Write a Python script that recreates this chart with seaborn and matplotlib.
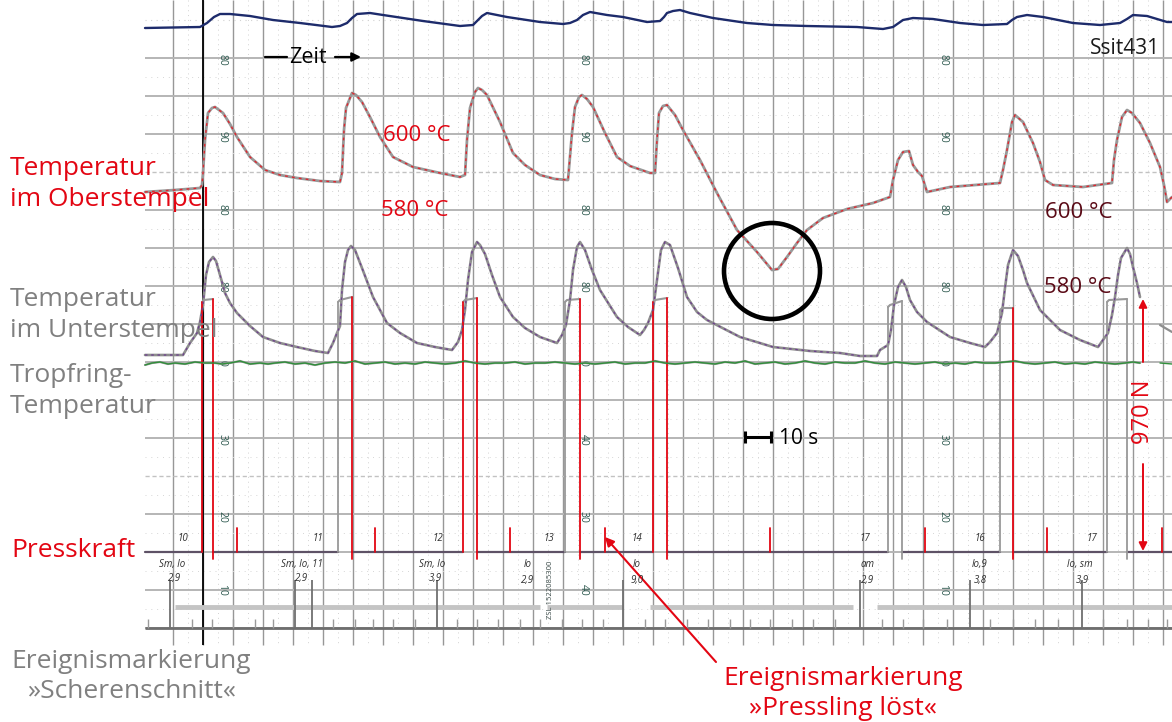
import numpy as np
import matplotlib
matplotlib.use("Agg")
import matplotlib.pyplot as plt
import seaborn as sns
from matplotlib.patches import Circle

# ---------------- data read from the recorder strip (x = time axis, y = pen position) -------------
blue_trace = [(145, 28), (200, 27), (207, 23), (214, 17), (220, 14), (230, 14), (250, 16), (273, 20), (300, 23),
              (332, 27), (340, 26), (347, 23), (352, 18), (357, 14), (370, 13), (383, 15), (423, 21), (460, 26),
              (473, 25), (477, 21), (482, 16), (487, 13), (507, 17), (540, 22), (563, 24), (570, 23), (577, 20),
              (583, 15), (590, 12), (607, 15), (623, 17), (647, 22), (660, 21), (664, 17), (667, 13), (673, 11),
              (680, 10), (690, 13), (713, 18), (747, 23), (773, 25), (807, 26), (857, 27), (883, 29), (893, 27),
              (903, 20), (913, 18), (933, 19), (960, 23), (983, 25), (1007, 24), (1012, 20), (1017, 17), (1027, 15),
              (1043, 17), (1073, 23), (1100, 25), (1120, 23), (1127, 19), (1133, 15), (1147, 16), (1167, 22),
              (1172, 22)]

ober_trace = [(145, 192), (175, 190), (200, 188), (202, 185), (203, 173), (205, 140), (208, 113), (212, 108),
              (215, 107), (223, 113), (230, 124), (237, 137), (250, 157), (265, 170), (280, 175), (297, 178),
              (320, 181), (340, 182), (342, 173), (344, 130), (346, 108), (352, 93), (356, 95), (362, 102),
              (370, 117), (380, 137), (393, 157), (413, 167), (440, 173), (460, 177), (465, 175), (467, 140),
              (470, 108), (475, 92), (478, 88), (482, 90), (487, 95), (500, 122), (513, 153), (525, 165),
              (540, 175), (555, 179), (568, 180), (572, 133), (575, 107), (579, 97), (582, 95), (587, 99),
              (593, 107), (605, 133), (617, 157), (630, 166), (650, 173), (655, 173), (657, 140), (659, 113),
              (663, 106), (667, 105), (675, 115), (683, 130), (700, 160), (717, 193), (737, 230), (757, 252),
              (772, 270), (778, 269), (787, 257), (797, 243), (807, 230), (823, 218), (847, 209), (873, 203),
              (890, 197), (893, 180), (898, 160), (903, 152), (909, 151), (913, 165), (918, 172), (922, 176),
              (927, 192), (950, 187), (975, 185), (1000, 183), (1003, 170), (1007, 150), (1012, 122), (1015, 115),
              (1023, 122), (1033, 143), (1040, 162), (1045, 180), (1053, 185), (1083, 187), (1112, 183),
              (1114, 160), (1117, 140), (1122, 117), (1127, 110), (1132, 113), (1140, 123), (1150, 143),
              (1160, 167), (1164, 185), (1167, 202), (1172, 197)]

unter_trace = [(145, 355), (183, 355), (190, 343), (197, 333), (200, 322), (203, 305), (206, 275), (209, 262),
               (213, 257), (216, 261), (220, 275), (225, 293), (230, 303), (237, 313), (250, 326), (263, 337),
               (280, 343), (297, 347), (315, 351), (328, 353), (333, 343), (337, 333), (340, 326), (342, 290),
               (345, 262), (348, 250), (351, 246), (355, 250), (362, 268), (373, 297), (387, 323), (400, 333),
               (417, 343), (435, 347), (452, 350), (458, 342), (462, 330), (465, 310), (468, 280), (472, 252),
               (477, 242), (480, 245), (485, 254), (492, 275), (500, 297), (513, 317), (525, 328), (540, 337),
               (557, 343), (562, 335), (566, 325), (570, 300), (573, 270), (577, 247), (580, 242), (585, 250),
               (592, 270), (600, 290), (617, 317), (628, 327), (640, 335), (644, 330), (648, 323), (653, 310),
               (657, 280), (661, 250), (665, 242), (670, 245), (678, 268), (687, 297), (697, 312), (707, 320),
               (740, 337), (773, 347), (810, 351), (840, 353), (860, 356), (877, 356), (880, 350), (888, 345),
               (891, 330), (894, 305), (898, 287), (902, 280), (906, 287), (910, 300), (917, 312), (927, 322),
               (950, 337), (970, 343), (985, 347), (990, 342), (997, 333), (1002, 313), (1005, 288), (1008, 265),
               (1013, 250), (1018, 256), (1023, 270), (1027, 283), (1040, 310), (1060, 330), (1080, 340),
               (1098, 347), (1103, 340), (1108, 333), (1112, 315), (1115, 297), (1118, 275), (1121, 258),
               (1127, 248), (1130, 254), (1133, 267), (1137, 283), (1140, 297)]
unter_tail = [(1160, 325), (1172, 332)]

tropf_trace = [(145, 365), (152, 363), (160, 362), (168, 364), (175, 363), (185, 364), (195, 362), (205, 363),
               (215, 363), (222, 364), (230, 363), (240, 361), (250, 364), (260, 363), (268, 364), (275, 363),
               (285, 362), (295, 364), (305, 363), (315, 365), (325, 363), (335, 362), (345, 363), (355, 361),
               (365, 364), (375, 363), (385, 362), (395, 364), (405, 363), (415, 364), (425, 362), (435, 363),
               (445, 364), (455, 363), (465, 361), (475, 363), (485, 364), (495, 363), (505, 363), (515, 362),
               (525, 364), (535, 363), (545, 363), (555, 362), (565, 363), (575, 364), (585, 363), (595, 364),
               (605, 363), (615, 362), (625, 364), (635, 363), (645, 363), (655, 361), (665, 363), (675, 364),
               (685, 363), (695, 362), (705, 363), (715, 364), (725, 362), (735, 363), (745, 361), (755, 364),
               (765, 363), (775, 362), (785, 364), (795, 363), (805, 361), (815, 363), (825, 364), (835, 362),
               (845, 363), (855, 363), (865, 361), (875, 363), (885, 364), (895, 362), (905, 363), (915, 364),
               (925, 363), (935, 362), (945, 364), (955, 363), (965, 364), (975, 362), (985, 363), (995, 363),
               (1005, 362), (1015, 361), (1025, 363), (1035, 364), (1045, 363), (1055, 362), (1065, 364),
               (1075, 363), (1085, 364), (1095, 362), (1105, 363), (1115, 364), (1125, 363), (1133, 362),
               (1140, 363)]
tropf_tail = [(1160, 363), (1172, 364)]

# Presskraft: press cycles (rise, fall) and plateau levels
press_on = [202, 338, 463, 565, 653, 888, 1000, 1107]
press_off = [213, 352, 477, 580, 667, 902, 1013, 1127]
plateau_on = [302, 302, 302, 302, 302, 307, 310, 302]
plateau_off = [299, 297, 298, 299, 298, 301, 308, 299]
press_base = 552
press_start, press_end = 145, 1172
rise_red = [True, False, True, False, True, False, False, False]
fall_red = [True, True, True, True, True, False, True, False]

# event marks "Pressling löst" (short red ticks)
release_marks = [237, 375, 510, 605, 770, 925, 1047, 1162]
release_top = 528

# event marks "Scherenschnitt" (bottom channel)
event_tall = [170, 295, 312, 437, 623, 860, 970, 1082]
event_short = [148, 192, 212, 233, 255, 273, 333, 355, 373, 393, 415, 457, 477, 498, 520, 540, 562, 582,
               603, 645, 665, 687, 708, 730, 750, 770, 792, 813, 835, 882, 903, 923, 947, 990, 1013, 1035,
               1058, 1103, 1127, 1148, 1167]
event_base = 628
band_segments = [(175, 540), (547, 622), (650, 853), (877, 1172)]

# printed scale figures on the paper
scale_cols = [222, 583, 943]
scale_rows = [60, 137, 210, 287, 363, 440, 517, 590]
scale_labels = [['80', '90', '80', '80', '0', '30', '20', '10'],
                ['80', '90', '80', '80', '0', '40', '30', '40'],
                ['80', '90', '80', '80', '0', '30', '20', '10']]

# handwritten notes near the events
hand_notes = [(183, 541, '10'), (318, 541, '11'), (438, 541, '12'), (549, 541, '13'), (637, 541, '14'),
              (865, 541, '17'), (980, 541, '16'), (1092, 541, '17'),
              (172, 567, 'Sm, lo'), (175, 581, '2,9'), (302, 567, 'Sm, lo, 11'), (302, 581, '2,9'),
              (432, 567, 'Sm, lo'), (435, 581, '3,9'), (528, 567, 'lo'), (528, 583, '2,9'),
              (637, 567, 'lo'), (637, 583, '9,0'), (868, 567, 'am'), (868, 583, '2,9'),
              (980, 567, 'lo,9'), (980, 583, '3,8'), (1080, 567, 'lo, sm'), (1082, 583, '3,9')]

# ---------------- figure ----------------
sns.set_theme(style="white")
plt.rcParams['font.family'] = ['Open Sans', 'DejaVu Sans']

fig = plt.figure(figsize=(11.72, 7.22), dpi=100)
ax = fig.add_axes([0, 0, 1, 1])
ax.set_facecolor('white')

RED = '#e30613'
GREY_TXT = '#808080'
DARK_RED = '#5a0a16'

# --- paper grid ---
vx = np.arange(173, 1172, 30)
ax.vlines(vx, 0, 645, color='#979797', lw=1.0, zorder=1)
ax.vlines(vx[:-1] + 15, 0, 645, color='#d2d2d2', lw=0.7, linestyles=(0, (1, 4)), zorder=1)
hy = np.arange(58, 640, 38)
for y in hy:
    if y in (172, 476):
        ax.hlines(y, 145, 1172, color='#c2c2c2', lw=1.0, linestyles=(0, (3, 2)), zorder=1)
    else:
        ax.hlines(y, 145, 1172, color='#b5b5b5', lw=1.4, zorder=1)
ax.hlines(20, 145, 1172, color='#d2d2d2', lw=0.8, linestyles=(0, (1, 4)), zorder=1)
ax.hlines(hy[:-1] + 19, 145, 1172, color='#d6d6d6', lw=0.7, linestyles=(0, (1, 5)), zorder=1)
ax.vlines([203], 0, 645, color='black', lw=1.3, zorder=2)
ax.hlines(event_base, 145, 1172, color='#6e6e6e', lw=2.0, zorder=2)

for i, col in enumerate(scale_cols):
    for y, lbl in zip(scale_rows, scale_labels[i]):
        ax.text(col, y, lbl, fontsize=7.5, color='#2f5a50', rotation=-90, ha='center', va='center', zorder=2)
ax.text(551, 590, 'ZSL 1522085300', fontsize=5.5, color='#3a4a48', rotation=90, ha='center', va='center')


def trace(points, color, lw, ls='-', z=3):
    xs = [p[0] for p in points]
    ys = [p[1] for p in points]
    sns.lineplot(x=xs, y=ys, ax=ax, color=color, linewidth=lw, linestyle=ls,
                 sort=False, estimator=None, legend=False, zorder=z)


# --- traces ---
trace(blue_trace, '#1d2b6b', 1.7)
trace(ober_trace, '#999999', 2.0)
trace(ober_trace, '#e0262e', 1.0, ls=(0, (2, 3)), z=4)
trace(unter_trace, '#8e8e8e', 1.9)
trace(unter_trace, '#6e3f8e', 0.9, ls=(0, (2, 3)), z=4)
trace(unter_tail, '#8e8e8e', 1.6)
trace(tropf_trace, '#9a9a9a', 1.6)
trace(tropf_trace, '#2f8f3a', 1.0, z=4)
trace(tropf_tail, '#2f8f3a', 1.0, z=4)

# --- Presskraft ---
edges = [press_start] + [v for pair in zip(press_on, press_off) for v in pair] + [press_end]
for a, b in zip(edges[0::2], edges[1::2]):
    trace([(a, press_base), (b, press_base)], '#5e5266', 1.6)
for on, off, t0, t1, rr, fr in zip(press_on, press_off, plateau_on, plateau_off, rise_red, fall_red):
    trace([(on, t0), (on + 2, t0 - 2), (off, t1)], '#999999', 1.5)
    trace([(on, press_base), (on, t0)], RED if rr else '#999999', 1.3)
    trace([(off, t1), (off, press_base + 7)], RED if fr else '#999999', 1.3)
for x in release_marks:
    trace([(x, press_base), (x, release_top)], RED, 1.3)

# --- event channel ---
for a, b in band_segments:
    ax.hlines(607, a, b, color='#c4c4c4', lw=3.5, zorder=2)
ax.vlines(event_tall, 580, event_base, color='#707070', lw=1.3, zorder=3)
ax.vlines(event_short, 619, event_base, color='#9a9a9a', lw=1.0, zorder=3)
for x, y, s in hand_notes:
    ax.text(x, y, s, fontsize=7, style='italic', color='#303030', ha='center', va='baseline', zorder=5)

# --- annotations ---
ax.add_patch(Circle((772, 271), 48, fill=False, lw=3.3, color='black', zorder=6))

ax.plot([265, 287], [57, 57], color='black', lw=1.6)
ax.text(289, 63, 'Zeit', fontsize=15.5, color='black', va='baseline', ha='left')
ax.annotate('', xy=(361, 57), xytext=(335, 57),
            arrowprops=dict(arrowstyle='-|>', color='black', lw=1.6, mutation_scale=13,
                            shrinkA=0, shrinkB=0))
ax.text(1160, 54, 'Ssit431', fontsize=15, color='#1a1a1a', va='baseline', ha='right')

ax.text(383, 141, '600 °C', fontsize=16, color=RED, va='baseline')
ax.text(381, 216, '580 °C', fontsize=16, color=RED, va='baseline')
ax.text(1045, 218, '600 °C', fontsize=16, color=DARK_RED, va='baseline')
ax.text(1044, 293, '580 °C', fontsize=16, color=DARK_RED, va='baseline')

ax.plot([745, 771], [437, 437], color='black', lw=2.2)
ax.vlines([745, 771], 431, 443, color='black', lw=2.2)
ax.text(779, 444, '10 s', fontsize=15, color='black', va='baseline')

ax.annotate('', xy=(1143, 299), xytext=(1143, 362),
            arrowprops=dict(arrowstyle='-|>', color=RED, lw=1.4, mutation_scale=12, shrinkA=0, shrinkB=0))
ax.annotate('', xy=(1143, 551), xytext=(1143, 464),
            arrowprops=dict(arrowstyle='-|>', color=RED, lw=1.4, mutation_scale=12, shrinkA=0, shrinkB=0))
ax.text(1143, 412, '970 N', fontsize=17, color=RED, rotation=90, ha='center', va='center')

ax.annotate('', xy=(605, 537), xytext=(716, 662),
            arrowprops=dict(arrowstyle='-|>', color=RED, lw=1.5, mutation_scale=13, shrinkA=0, shrinkB=0))

# --- channel labels ---
lab = 19
ax.text(10, 175, 'Temperatur', fontsize=lab, color=RED, va='baseline')
ax.text(10, 206, 'im Oberstempel', fontsize=lab, color=RED, va='baseline')
ax.text(10, 306, 'Temperatur', fontsize=lab, color=GREY_TXT, va='baseline')
ax.text(10, 337, 'im Unterstempel', fontsize=lab, color=GREY_TXT, va='baseline')
ax.text(10, 382, 'Tropfring-', fontsize=lab, color=GREY_TXT, va='baseline')
ax.text(10, 413, 'Temperatur', fontsize=lab, color=GREY_TXT, va='baseline')
ax.text(11, 557, 'Presskraft', fontsize=lab, color=RED, va='baseline')
ax.text(131, 668, 'Ereignismarkierung', fontsize=lab, color=GREY_TXT, va='baseline', ha='center')
ax.text(131, 698, '»Scherenschnitt«', fontsize=lab, color=GREY_TXT, va='baseline', ha='center')
ax.text(843, 685, 'Ereignismarkierung', fontsize=lab, color=RED, va='baseline', ha='center')
ax.text(843, 715, '»Pressling löst«', fontsize=lab, color=RED, va='baseline', ha='center')

ax.set_xlim(0, 1172)
ax.set_ylim(722, 0)
ax.axis('off')
fig.savefig('out.png', dpi=100, facecolor='white')
